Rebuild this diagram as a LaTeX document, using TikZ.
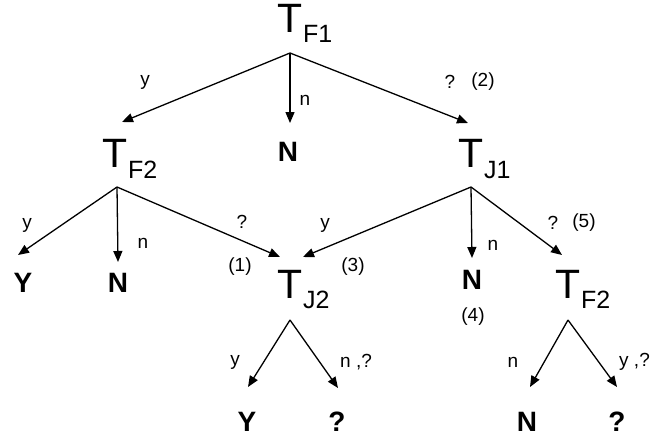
\documentclass[tikz,border=0pt]{standalone}
\usepackage{fontspec}
\setmainfont{Liberation Sans}
\usetikzlibrary{arrows.meta}
\begin{document}
\begin{tikzpicture}[x=1pt,y=-1pt,
  bigT/.style={inner sep=0pt, anchor=base, font=\fontsize{41}{41}\selectfont},
  subT/.style={inner sep=0pt, anchor=base west, font=\fontsize{25}{25}\selectfont},
  leaf/.style={inner sep=0pt, font=\bfseries\fontsize{28}{28}\selectfont},
  lbl/.style={inner sep=0pt, font=\fontsize{19}{19}\selectfont},
  arr/.style={line width=1.3pt, -{Triangle[length=11pt,width=9pt]}},
]
\useasboundingbox[fill=white] (0,0) rectangle (652,442);

% decision terms
\node[bigT] (tf1) at (290,32) {T};
\node[subT] (tf1s) at (303,42) {F1};
\node[bigT] (tf2) at (115,167) {T};
\node[subT] (tf2s) at (128,178) {F2};
\node[bigT] (tj1) at (471,167) {T};
\node[subT] (tj1s) at (484,178) {J1};
\node[bigT] (tj2) at (290,298) {T};
\node[subT] (tj2s) at (303,308) {J2};
\node[bigT] (tf2r) at (568,298) {T};
\node[subT] (tf2rs) at (581,308) {F2};

% leaves
\node[leaf] (nmid) at (288,152) {N};
\node[leaf] (y1) at (23,283) {Y};
\node[leaf] (n1) at (118,283) {N};
\node[leaf] (n2) at (472,280) {N};
\node[leaf] (y2) at (247,422) {Y};
\node[leaf] (q1) at (337,422) {?};
\node[leaf] (n3) at (527,422) {N};
\node[leaf] (q2) at (617,422) {?};

% apexes (arrow origins below each term)
\coordinate (a1) at (290,53);
\coordinate (a2) at (117,187);
\coordinate (a3) at (471,187);
\coordinate (a4) at (290,320);
\coordinate (a5) at (568,320);

% arrow tips above each target
\coordinate (p-tf2) at (122,122);
\coordinate (p-nmid) at (290,123);
\coordinate (p-tj1) at (468,123);
\coordinate (p-y1) at (18,255);
\coordinate (p-n1) at (118,262);
\coordinate (p-tj2a) at (280,257);
\coordinate (p-tj2b) at (303,257);
\coordinate (p-n2) at (472,258);
\coordinate (p-tf2r) at (562,255);
\coordinate (p-y2) at (248,387);
\coordinate (p-q1) at (338,388);
\coordinate (p-n3) at (530,387);
\coordinate (p-q2) at (617,387);

\draw[arr] (a1) -- (p-tf2);
\draw[arr] (a1) -- (p-nmid);
\draw[arr] (a1) -- (p-tj1);
\draw[arr] (a2) -- (p-y1);
\draw[arr] (a2) -- (p-n1);
\draw[arr] (a2) -- (p-tj2a);
\draw[arr] (a3) -- (p-tj2b);
\draw[arr] (a3) -- (p-n2);
\draw[arr] (a3) -- (p-tf2r);
\draw[arr] (a4) -- (p-y2);
\draw[arr] (a4) -- (p-q1);
\draw[arr] (a5) -- (p-n3);
\draw[arr] (a5) -- (p-q2);

% edge labels
\node[lbl] (l1) at (145,82) {y};
\node[lbl] (l2) at (305,100) {n};
\node[lbl] (l3) at (450,82) {?};
\node[lbl] (l4) at (483,82) {(2)};
\node[lbl] (l5) at (27,225) {y};
\node[lbl] (l6) at (143,243) {n};
\node[lbl] (l7) at (242,222) {?};
\node[lbl] (l8) at (240,267) {(1)};
\node[lbl] (l9) at (325,225) {y};
\node[lbl] (l10) at (353,267) {(3)};
\node[lbl] (l11) at (493,245) {n};
\node[lbl] (l12) at (553,223) {?};
\node[lbl] (l13) at (584,223) {(5)};
\node[lbl] (l14) at (473,317) {(4)};
\node[lbl] (l15) at (235,362) {y};
\node[lbl, anchor=west] (l16) at (340,362) {n ,?};
\node[lbl] (l17) at (513,362) {n};
\node[lbl, anchor=west] (l18) at (619,362) {y ,?};
\end{tikzpicture}
\end{document}
